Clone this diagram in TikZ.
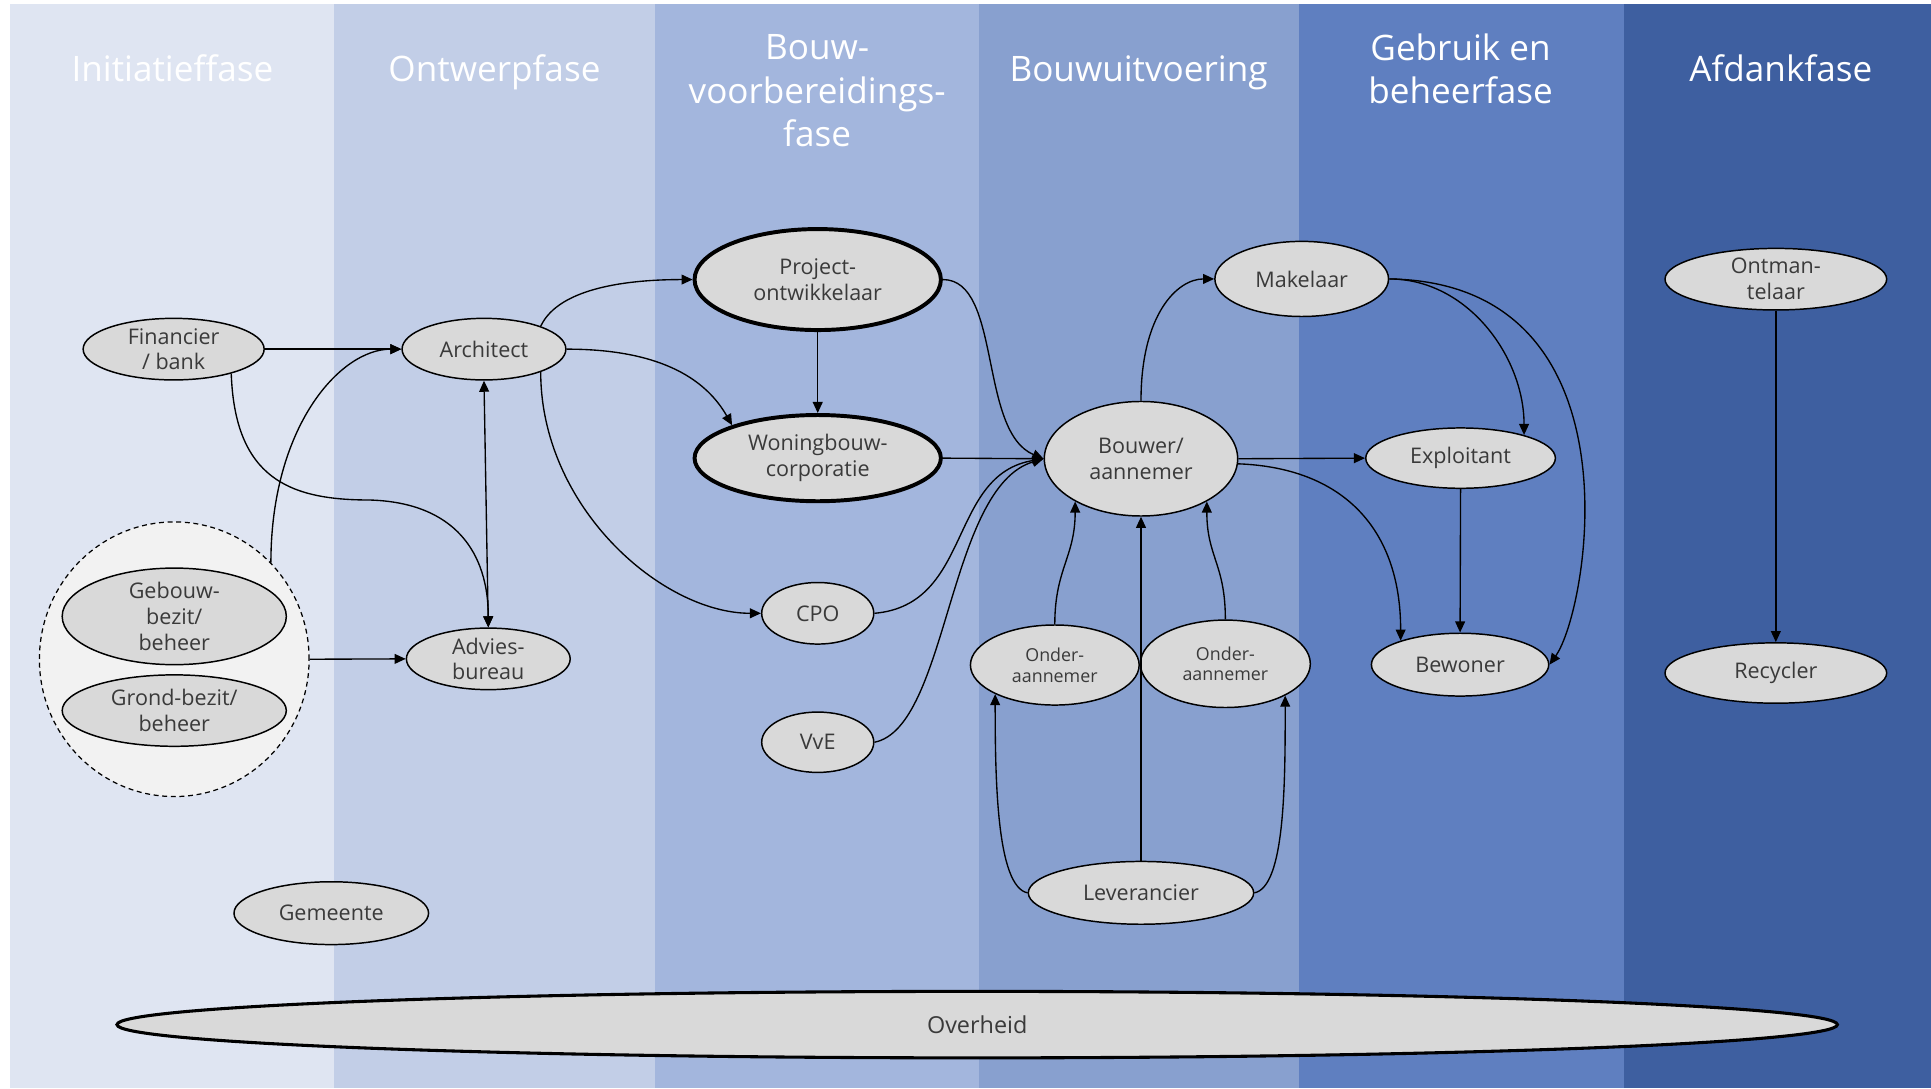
\documentclass[tikz,border=0pt]{standalone}
\usepackage{fontspec}
\setmainfont{Open Sans}
\usetikzlibrary{shapes.geometric,arrows.meta}
\definecolor{pA}{HTML}{DFE5F2}
\definecolor{pB}{HTML}{C2CEE7}
\definecolor{pC}{HTML}{A3B6DD}
\definecolor{pD}{HTML}{88A0CF}
\definecolor{pE}{HTML}{5F7FC0}
\definecolor{pF}{HTML}{3E5FA0}
\definecolor{nodefill}{HTML}{D9D9D9}
\definecolor{grpfill}{HTML}{F2F2F2}
\definecolor{txt}{HTML}{3A3A3A}
\begin{document}
\begin{tikzpicture}[x=1pt,y=-1pt,
  actor/.style={ellipse, draw=black, line width=1.2pt, fill=nodefill, text=txt, inner sep=0pt, align=center, font=\fontsize{17.5}{21}\selectfont},
  keyactor/.style={actor, line width=3.2pt},
  smalltext/.style={font=\fontsize{14.5}{17}\selectfont},
  conn/.style={line width=1.1pt, -{Triangle[length=9pt,width=8pt]}},
  biconn/.style={line width=1.1pt, {Triangle[length=9pt,width=8pt]}-{Triangle[length=9pt,width=8pt]}},
  phasetitle/.style={text=white, font=\fontsize{28.5}{35.2}\selectfont, align=center, anchor=base, inner sep=0pt}]
\useasboundingbox (0,0) rectangle (1568,883.5);
% phase bands
\fill[white] (0,0) rectangle (1568,883.5);
\fill[pA] (8,3) rectangle (271.5,883.5);
\fill[pB] (271.5,3) rectangle (532,883.5);
\fill[pC] (532,3) rectangle (795,883.5);
\fill[pD] (795,3) rectangle (1055,883.5);
\fill[pE] (1055,3) rectangle (1319,883.5);
\fill[pF] (1319,3) rectangle (1568,883.5);
% titles (anchor=base is the baseline of the last line)
\node[phasetitle] (t1) at (140,66.3) {Initiatieffase};
\node[phasetitle] (t2) at (401.5,66.3) {Ontwerpfase};
\node[phasetitle] (t3) at (663.5,119) {Bouw-\\voorbereidings-\\fase};
\node[phasetitle] (t4) at (924.5,66.3) {Bouwuitvoering};
\node[phasetitle] (t5) at (1186,84.4) {Gebruik en\\beheerfase};
\node[phasetitle] (t6) at (1446,66.3) {Afdankfase};
% nodes
\node[actor, minimum width=147pt, minimum height=50pt] (fin) at (141,283.5) {Financier\\/ bank};
\node[actor, minimum width=133pt, minimum height=50pt] (arch) at (393,283.5) {Architect};
\node[keyactor, minimum width=200pt, minimum height=82pt] (proj) at (664,227) {Project-\\ontwikkelaar};
\node[keyactor, minimum width=200pt, minimum height=70pt] (won) at (664,372) {Woningbouw-\\corporatie};
\node[actor, minimum width=141pt, minimum height=61pt] (mak) at (1057,226.5) {Makelaar};
\node[actor, minimum width=180pt, minimum height=50pt] (ont) at (1442,226.7) {Ontman-\\telaar};
\node[actor, minimum width=157pt, minimum height=93pt] (bou) at (926.5,372.5) {Bouwer/\\aannemer};
\node[actor, minimum width=154pt, minimum height=49pt] (exp) at (1186,372) {Exploitant};
\node[actor, minimum width=91pt, minimum height=50pt] (cpo) at (664,498) {CPO};
\node[actor, minimum width=133pt, minimum height=50pt] (adv) at (396.5,535) {Advies-\\bureau};
\node[ellipse, draw=black, dash pattern=on 4pt off 3pt, fill=grpfill, line width=1pt, minimum width=219pt, minimum height=223pt, inner sep=0pt] (grp) at (141.5,535.3) {};
\node[actor, minimum width=182pt, minimum height=73pt] (geb) at (141.5,500.5) {Gebouw-\\bezit/\\beheer};
\node[actor, minimum width=182pt, minimum height=58pt] (gro) at (141.5,577) {Grond-bezit/\\beheer};
\node[actor, smalltext, minimum width=137pt, minimum height=65pt] (onl) at (856.5,540) {Onder-\\aannemer};
\node[actor, smalltext, minimum width=138pt, minimum height=71pt] (onr) at (995,539) {Onder-\\aannemer};
\node[actor, minimum width=144pt, minimum height=51pt] (bew) at (1185.6,539.7) {Bewoner};
\node[actor, minimum width=180pt, minimum height=49pt] (rec) at (1442,546.5) {Recycler};
\node[actor, minimum width=91pt, minimum height=49pt] (vve) at (664,602.7) {VvE};
\node[actor, minimum width=183pt, minimum height=51pt] (lev) at (926.5,725) {Leverancier};
\node[actor, minimum width=158pt, minimum height=51pt] (gem) at (269,741.5) {Gemeente};
\node[actor, line width=2.5pt, minimum width=1397pt, minimum height=54pt, font=\fontsize{19}{22}\selectfont] (ovh) at (793.5,832) {Overheid};
% connectors
\coordinate (finadv) at (300,406);
\draw[conn] (fin.east) -- (arch.west);
\draw[conn] (fin.-23) .. controls +(3,85) and +(-65,0) .. (finadv) .. controls +(70,2) and +(0,-60) .. (adv.north);
\draw[conn] (grp.45) .. controls +(0,-110) and +(-50,0) .. (arch.west);
\draw[conn] (grp.east) -- (adv.west);
\draw[biconn] (arch.south) -- (adv.north);
\draw[conn] (arch.22) .. controls +(15,-32) and +(-50,0) .. (proj.west);
\draw[conn] (arch.east) .. controls +(80,0) and +(-20,-35) .. (won.159);
\draw[conn] (arch.-22) .. controls +(0,110) and +(-80,0) .. (cpo.west);
\draw[conn] (proj.south) -- (won.north);
\draw[conn] (proj.east) .. controls +(48,0) and +(-53,-22) .. (bou.west);
\draw[conn] (won.east) -- (bou.west);
\draw[conn] (cpo.east) .. controls +(80,-7) and +(-78,13) .. (bou.west);
\draw[conn] (vve.east) .. controls +(60,-12) and +(-78,23) .. (bou.west);
\draw[conn] (bou.north) .. controls +(0,-70) and +(-30,0) .. (mak.west);
\draw[conn] (bou.east) -- (exp.west);
\draw[conn] (bou.-3) .. controls +(84,3) and +(0,-92) .. (bew.158);
\draw[conn] (mak.east) .. controls +(64,0) and +(0,-63) .. (exp.20);
\draw[conn] (mak.east) .. controls +(207,3) and +(32,-45) .. (bew.east);
\draw[conn] (exp.south) -- (bew.north);
\draw[conn] (onl.north) .. controls +(0,-45) and +(0,45) .. (bou.-147);
\draw[conn] (onr.north) .. controls +(0,-45) and +(0,45) .. (bou.-33);
\draw[conn] (lev.north) -- (bou.south);
\draw[conn] (lev.west) .. controls +(-25,-5) and +(0,70) .. (onl.-154);
\draw[conn] (lev.east) .. controls +(25,-5) and +(0,70) .. (onr.-28);
\draw[conn] (ont.south) -- (rec.north);
\end{tikzpicture}
\end{document}
